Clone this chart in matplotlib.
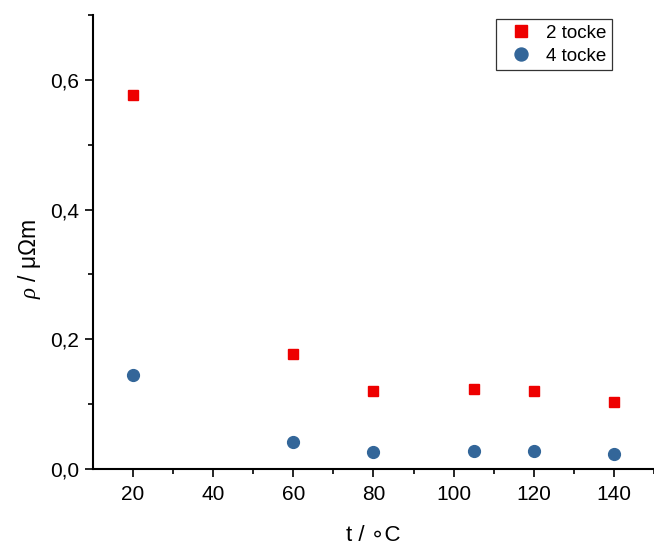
import matplotlib.pyplot as plt
from matplotlib.ticker import MultipleLocator, FixedLocator

plt.rcParams['font.family'] = ['Liberation Sans', 'DejaVu Sans']
plt.rcParams['mathtext.fontset'] = 'custom'
plt.rcParams['mathtext.it'] = 'Liberation Serif:italic'

# data
temps = [20, 60, 80, 105, 120, 140]
rho_2 = [0.577, 0.177, 0.120, 0.123, 0.121, 0.104]
rho_4 = [0.145, 0.042, 0.027, 0.028, 0.028, 0.023]

xticks = [20, 40, 60, 80, 100, 120, 140]
yticks = [0.0, 0.2, 0.4, 0.6]
ytick_labels = ["0,0", "0,2", "0,4", "0,6"]

fig = plt.figure(figsize=(6.54, 5.45), dpi=100)
ax = fig.add_axes([0.142, 0.1394, 0.858, 0.8331])

ax.plot(temps, rho_2, linestyle="none", marker="s", markersize=7.5,
        color="#ee0000", label="2 tocke")
ax.plot(temps, rho_4, linestyle="none", marker="o", markersize=8.5,
        color="#336699", label="4 tocke")

ax.set_xlim(10, 150)
ax.set_ylim(0, 0.7)

ax.set_xticks(xticks)
ax.set_xticklabels([str(t) for t in xticks])
ax.xaxis.set_minor_locator(FixedLocator([30, 50, 70, 90, 110, 130, 150]))
ax.set_yticks(yticks)
ax.set_yticklabels(ytick_labels)
ax.yaxis.set_minor_locator(MultipleLocator(0.1))

ax.tick_params(axis="both", which="major", direction="out", length=5.5,
               width=1.2, labelsize=15)
ax.tick_params(axis="x", which="major", pad=6)
ax.tick_params(axis="y", which="major", pad=4.5)
ax.tick_params(axis="both", which="minor", direction="out", length=3.5,
               width=1.2)

for side in ["top", "right"]:
    ax.spines[side].set_visible(False)
for side in ["left", "bottom"]:
    ax.spines[side].set_linewidth(1.5)

ax.set_xlabel("t / \u2218C", fontsize=16, labelpad=15)
ax.set_ylabel(r"$\rho$ / μΩm", fontsize=16.5)
ax.yaxis.set_label_coords(-0.089, 0.463)

leg = ax.legend(loc="upper right", bbox_to_anchor=(0.925, 0.991), fontsize=13.5,
                frameon=True, fancybox=False, borderpad=0.3,
                borderaxespad=0, handletextpad=0.35, labelspacing=0.3,
                handlelength=2.0, markerscale=1.1)
leg.get_frame().set_edgecolor("black")
leg.get_frame().set_linewidth(0.9)

fig.savefig("out.png", dpi=100)
